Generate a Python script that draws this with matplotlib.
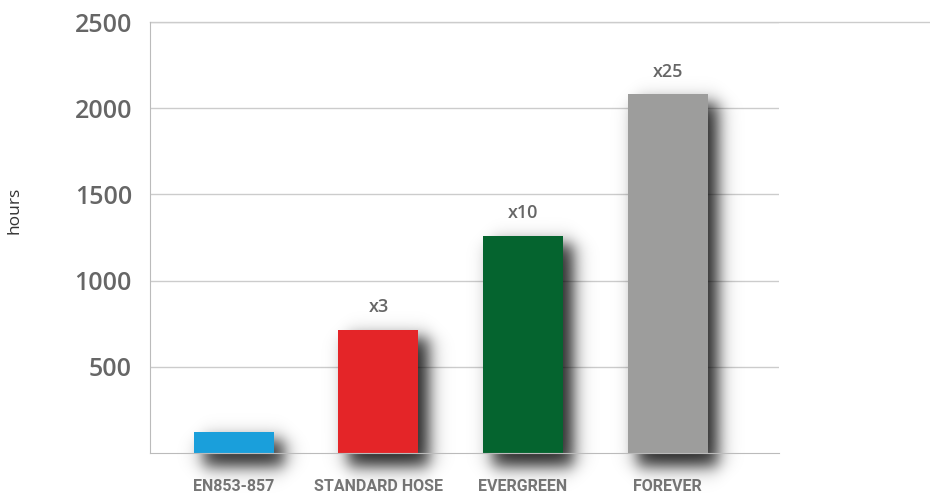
import numpy as np
import matplotlib.pyplot as plt

categories = ['EN853-857', 'STANDARD HOSE', 'EVERGREEN', 'FOREVER']
hours = [120, 715, 1260, 2080]
multipliers = ['', 'x3', 'x10', 'x25']
colors = ['#1a9fdb', '#e42528', '#05642f', '#9d9d9c']
yticks = [500, 1000, 1500, 2000, 2500]

fig = plt.figure(figsize=(9.3, 4.97), dpi=100)
ax = fig.add_axes([150 / 930, 1 - 453 / 497, 629 / 930, 431 / 497])

x = np.arange(len(categories))
width = 80 / 144.5
xlim = (-0.58, 3.77)

# soft drop shadow behind each bar (box blurred with a smooth step)
px_x = (xlim[1] - xlim[0]) / 629
px_y = 2500 / 431
gx = np.linspace(xlim[0], xlim[1] + 50 * px_x, 720)
gy = np.linspace(-45 * px_y, 2500, 480)
X, Y = np.meshgrid(gx, gy)
shade = np.zeros_like(X)
s = 10.0
for xi, h in zip(x, hours):
    x0 = xi - width / 2 + 9 * px_x
    x1 = xi + width / 2 + 10 * px_x
    y0 = -14 * px_y
    y1 = h - 8 * px_y
    sx = 0.5 * (np.tanh((X - x0) / (s * px_x)) - np.tanh((X - x1) / (s * px_x)))
    sy = 0.5 * (np.tanh((Y - y0) / (s * px_y)) - np.tanh((Y - y1) / (s * px_y)))
    shade = np.maximum(shade, sx * sy)
rgba = np.zeros(X.shape + (4,))
rgba[..., 3] = 0.85 * shade
ax.imshow(rgba, extent=(gx[0], gx[-1], gy[0], gy[-1]), origin='lower', aspect='auto',
          interpolation='bilinear', zorder=2, clip_on=False)
ax.set_xlim(*xlim)
ax.set_ylim(0, 2500)

ax.bar(x, hours, width=width, color=colors, zorder=3)

for xi, h, m in zip(x, hours, multipliers):
    ax.text(xi, h + 80, m, ha='center', va='bottom', fontsize=13, color='#666666',
            fontfamily='Open Sans', fontweight='semibold')

ax.set_yticks(yticks)
ax.set_yticklabels([str(t) for t in yticks], fontsize=18, color='#666666',
                   fontfamily='Open Sans', fontweight='semibold')
ax.set_xticks(x)
ax.set_xticklabels(categories, fontsize=11.5, color='#777777', fontfamily='Roboto', fontweight='bold')
ax.tick_params(axis='y', length=0, pad=13)
ax.tick_params(axis='x', length=0, pad=19)

ax.grid(axis='y', color='#cccccc', lw=1, zorder=0)
ax.axhline(2500, xmin=0, xmax=(930 - 150) / 629, color='#cccccc', lw=1, clip_on=False, zorder=0)
for sp in ['top', 'right']:
    ax.spines[sp].set_visible(False)
ax.spines['left'].set_color('#bbbbbb')
ax.spines['bottom'].set_color('#bbbbbb')
ax.spines['bottom'].set_zorder(4)
ax.set_axisbelow(True)

fig.text(15 / 930, 1 - 210 / 497, 'hours', rotation=90, ha='center', va='center',
         fontsize=12.5, color='#333333', fontfamily='Open Sans')

fig.savefig('out.png', dpi=100)
